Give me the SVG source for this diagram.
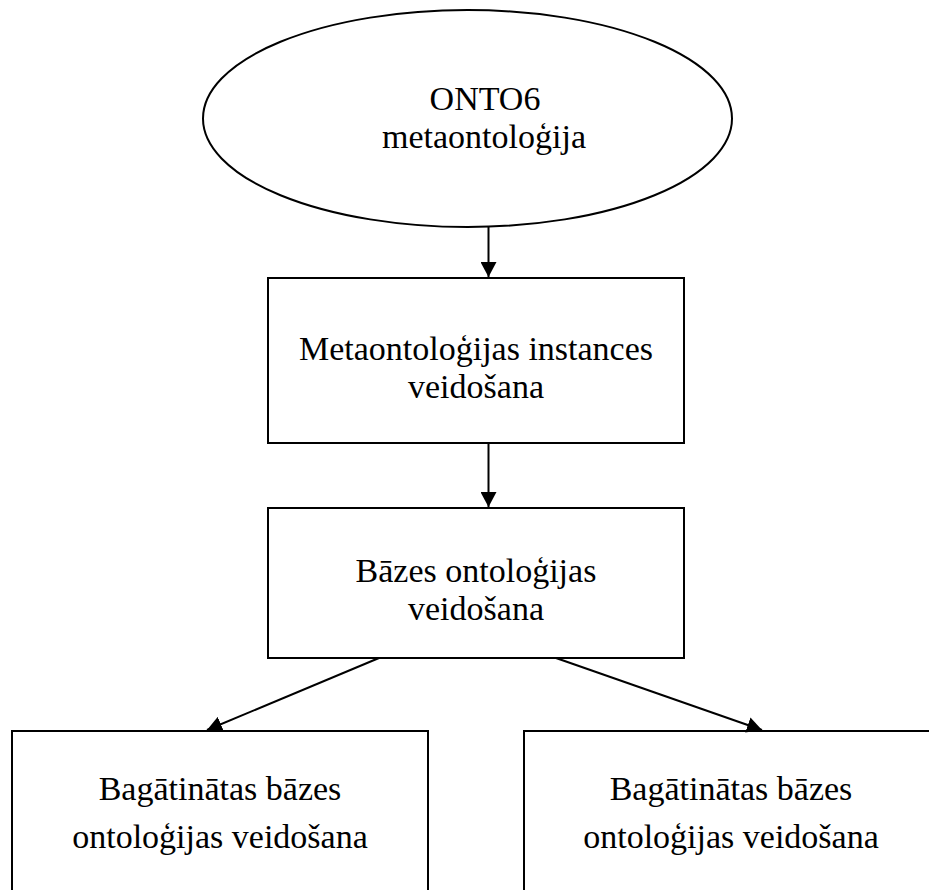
<svg xmlns="http://www.w3.org/2000/svg" width="929" height="890" viewBox="0 0 929 890">
  <style>
    .shape { fill: #ffffff; stroke: #000000; stroke-width: 2; }
    .label { font-family: "Liberation Serif", "Times New Roman", serif; font-size: 34px; fill: #000000; text-anchor: middle; }
    .link { fill: none; stroke: #000000; stroke-width: 2; marker-end: url(#head); }
  </style>
  <defs>
    <marker id="head" markerUnits="userSpaceOnUse" markerWidth="16" markerHeight="16" refX="15" refY="8" orient="auto">
      <path d="M0,0 L15,8 L0,16 z" fill="#000000"/>
    </marker>
  </defs>
  <rect width="929" height="890" fill="#ffffff"/>

  <g id="onto6">
    <ellipse class="shape" cx="467.5" cy="118.5" rx="264.5" ry="108.5"/>
    <text class="label" x="485" y="110">ONTO6</text>
    <text class="label" x="484" y="148">metaontoloģija</text>
  </g>

  <g id="instances">
    <rect class="shape" x="268" y="278" width="416" height="165"/>
    <text class="label" x="476" y="360">Metaontoloģijas instances</text>
    <text class="label" x="476" y="398">veidošana</text>
  </g>

  <g id="base">
    <rect class="shape" x="268" y="508" width="416" height="150"/>
    <text class="label" x="476" y="582">Bāzes ontoloģijas</text>
    <text class="label" x="476" y="620">veidošana</text>
  </g>

  <g id="enriched-left">
    <rect class="shape" x="12" y="731" width="416" height="170"/>
    <text class="label" x="220" y="800">Bagātinātas bāzes</text>
    <text class="label" x="220" y="848">ontoloģijas veidošana</text>
  </g>

  <g id="enriched-right">
    <rect class="shape" x="524" y="731" width="420" height="170"/>
    <text class="label" x="731" y="800">Bagātinātas bāzes</text>
    <text class="label" x="731" y="848">ontoloģijas veidošana</text>
  </g>

  <g id="connectors">
    <line class="link" x1="488.5" y1="227" x2="488.5" y2="277"/>
    <line class="link" x1="488.5" y1="443" x2="488.5" y2="507"/>
    <line class="link" x1="379" y1="658" x2="207" y2="730"/>
    <line class="link" x1="556" y1="658" x2="762" y2="730"/>
  </g>
</svg>
